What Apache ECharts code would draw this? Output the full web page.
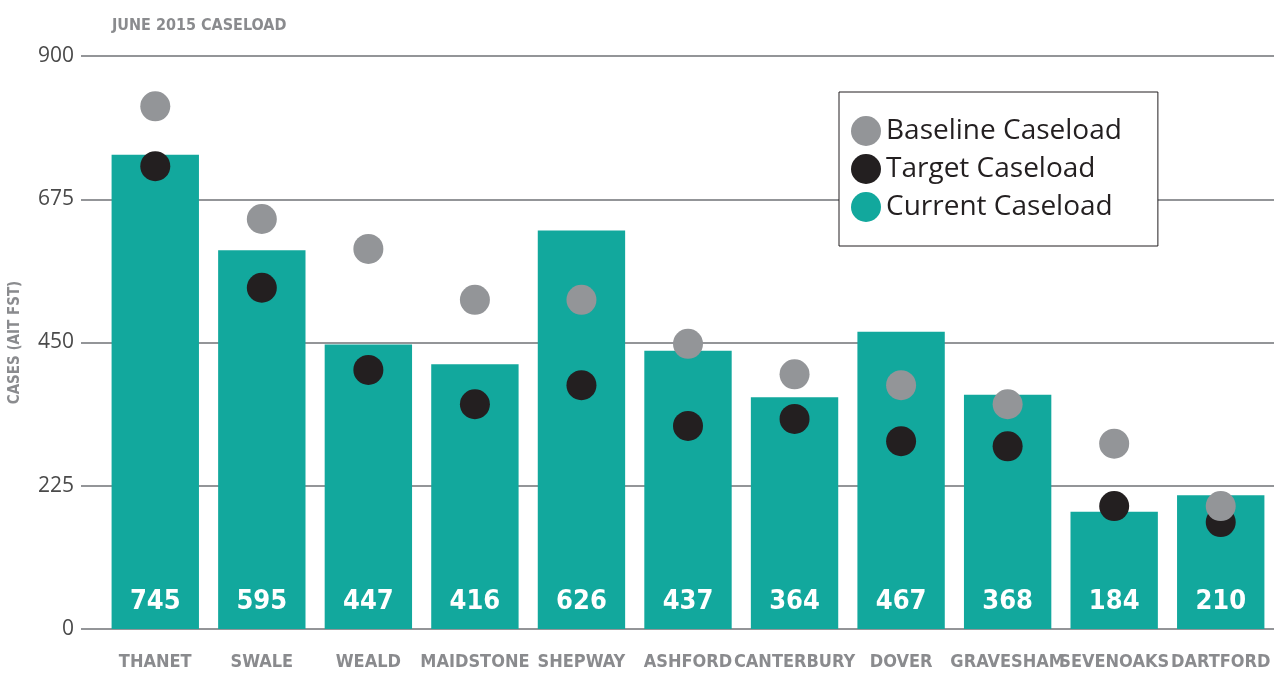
<!DOCTYPE html>
<html><head><meta charset="utf-8">
<script src="https://cdn.jsdelivr.net/npm/echarts@6/dist/echarts.min.js"></script>
<style>html,body{margin:0;padding:0;background:#fff}#c{width:1274px;height:673px}</style>
</head><body><div id="c"></div>
<script>
const categories = ['THANET','SWALE','WEALD','MAIDSTONE','SHEPWAY','ASHFORD','CANTERBURY','DOVER','GRAVESHAM','SEVENOAKS','DARTFORD'];
const currentCaseload = [745,595,447,416,626,437,364,467,368,184,210];
const baselineCaseload = [821,644,597,517,517,448,400,383,353,291,193];
const targetCaseload = [727,536,407,353,383,319,330,295,287,193,168];
const yTicks = [0,225,450,675,900];

const TEAL = '#12a89d', GRAY = '#939598', BLACK = '#231f20', GRID = '#939598';
const COND = '"DejaVu Sans"';
const CW = 'bold condensed';

const chart = echarts.init(document.getElementById('c'));
chart.setOption({
  animation: false,
  title: {
    text: 'JUNE 2015 CASELOAD', left: 107, top: 13,
    textStyle: {fontFamily: COND, fontWeight: CW, fontSize: 16, color: '#8a8b8e'}
  },
  legend: {
    orient: 'vertical', left: 839, top: 92,
    backgroundColor: '#fff', borderColor: '#231f20', borderWidth: 1,
    padding: [24, 36, 24, 12], itemGap: 8, itemWidth: 30, itemHeight: 30,
    icon: 'circle',
    textStyle: {fontFamily: '"Open Sans",sans-serif', fontSize: 28, color: '#231f20'},
    data: ['Baseline Caseload','Target Caseload','Current Caseload']
  },
  grid: [
    {left: 80, right: 0, top: 56, bottom: 44},
    {left: 102, right: 0, top: 56, bottom: 44}
  ],
  xAxis: [
    {gridIndex: 0, type: 'category', data: categories, show: false},
    {gridIndex: 1, type: 'category', data: categories,
     axisLine: {show: false}, axisTick: {show: false},
     axisLabel: {interval: 0, margin: 24, fontFamily: COND, fontWeight: CW, fontSize: 18, color: '#8a8b8e'}}
  ],
  yAxis: [
    {gridIndex: 0, type: 'value', min: 0, max: 900, interval: 225,
     name: 'CASES (AIT FST)', nameLocation: 'middle', nameGap: 58, nameRotate: 90,
     nameTextStyle: {fontFamily: COND, fontWeight: CW, fontSize: 15, color: '#8a8b8e'},
     axisLine: {show: false}, axisTick: {show: false},
     axisLabel: {margin: 7, fontFamily: '"Open Sans",sans-serif', fontSize: 21, color: '#4a4a4a',
       formatter: v => yTicks.includes(v) ? String(v) : ''},
     splitLine: {lineStyle: {color: GRID, width: 2}}},
    {gridIndex: 1, type: 'value', min: 0, max: 900, interval: 225, show: false, splitLine: {show: false}}
  ],
  series: [
    {name: 'Current Caseload', type: 'bar', xAxisIndex: 1, yAxisIndex: 1, data: currentCaseload,
     barCategoryGap: '18%', itemStyle: {color: TEAL}, z: 2,
     label: {show: true, position: 'insideBottom', distance: 14, fontFamily: COND, fontWeight: CW, fontSize: 27, color: '#fff'}},
    {name: 'Baseline Caseload', type: 'scatter', xAxisIndex: 1, yAxisIndex: 1, data: baselineCaseload,
     symbolSize: 30, itemStyle: {color: GRAY, opacity: 1}, z: 4},
    {name: 'Target Caseload', type: 'scatter', xAxisIndex: 1, yAxisIndex: 1, data: targetCaseload,
     symbolSize: 30, itemStyle: {color: BLACK, opacity: 1}, z: 3}
  ]
});
</script></body></html>
